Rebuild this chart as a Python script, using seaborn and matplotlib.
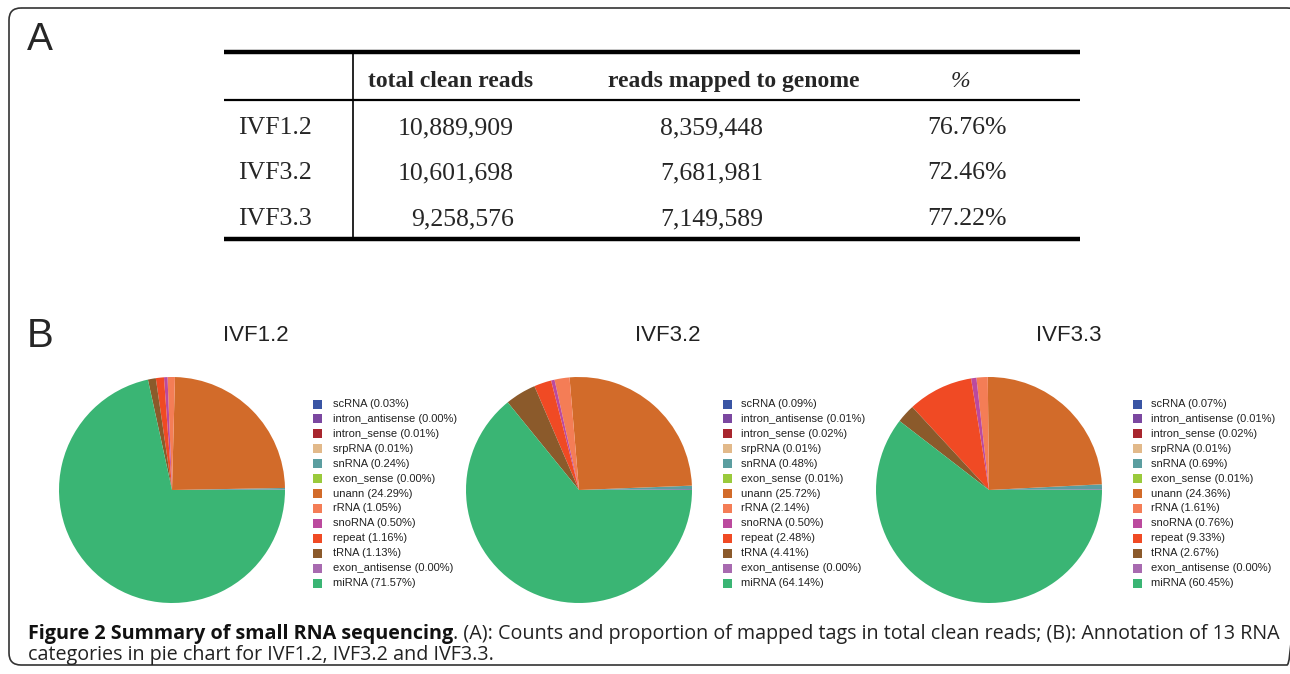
import numpy as np
import pandas as pd
import seaborn as sns
import matplotlib
matplotlib.use("Agg")
from matplotlib import pyplot as plt
from matplotlib.patches import Rectangle, FancyBboxPatch
from matplotlib import font_manager

# ---- data ----
samples = ["IVF1.2", "IVF3.2", "IVF3.3"]
total_clean = ["10,889,909", "10,601,698", "9,258,576"]
mapped = ["8,359,448", "7,681,981", "7,149,589"]
mapped_pct = ["76.76%", "72.46%", "77.22%"]

categories = ["scRNA", "intron_antisense", "intron_sense", "srpRNA", "snRNA",
              "exon_sense", "unann", "rRNA", "snoRNA", "repeat", "tRNA",
              "exon_antisense", "miRNA"]
ivf12 = [0.03, 0.00, 0.01, 0.01, 0.24, 0.00, 24.29, 1.05, 0.50, 1.16, 1.13, 0.00, 71.57]
ivf32 = [0.09, 0.01, 0.02, 0.01, 0.48, 0.01, 25.72, 2.14, 0.50, 2.48, 4.41, 0.00, 64.14]
ivf33 = [0.07, 0.01, 0.02, 0.01, 0.69, 0.01, 24.36, 1.61, 0.76, 9.33, 2.67, 0.00, 60.45]

cat_colors = ["#3A55A4", "#7B47A0", "#A8262E", "#E2B98A", "#5B9EA0", "#9ACA3C",
              "#D26B2A", "#F47D56", "#BB4A9E", "#F04A24", "#8B5A2B", "#A86AB0",
              "#3AB574"]

df = pd.DataFrame({"category": categories, "IVF1.2": ivf12, "IVF3.2": ivf32, "IVF3.3": ivf33})

sns.set_theme(style="white")
pal = sns.color_palette(cat_colors)

installed = {f.name for f in font_manager.fontManager.ttflist}
sans = "Liberation Sans" if "Liberation Sans" in installed else "DejaVu Sans"
serif = "Liberation Serif" if "Liberation Serif" in installed else "DejaVu Serif"
cap_font = "Liberation Sans Narrow" if "Liberation Sans Narrow" in installed else "Open Sans"

W, H = 1290, 674
fig = plt.figure(figsize=(W / 100, H / 100), dpi=100)

# overlay axes in pixel coordinates
ov = fig.add_axes([0, 0, 1, 1])
ov.set_xlim(0, W)
ov.set_ylim(H, 0)
ov.axis("off")

# outer rounded frame
ov.add_patch(FancyBboxPatch((9, 8), 1290, 657, boxstyle="round,pad=0,rounding_size=12",
                            fill=False, ec="#333333", lw=1.2))

# panel letters
ov.text(27, 50, "A", fontsize=28, family=sans, va="baseline")
ov.text(27, 347, "B", fontsize=29, family=sans, va="baseline")

# ---- table (panel A) ----
ov.plot([224, 1080], [52, 52], color="black", lw=3.2, solid_capstyle="butt")
ov.plot([224, 1080], [100, 100], color="black", lw=1.6, solid_capstyle="butt")
ov.plot([224, 1080], [238.5, 238.5], color="black", lw=3.2, solid_capstyle="butt")
ov.plot([353, 353], [53, 238], color="black", lw=1.2)

ov.text(368, 87, "total clean reads", fontsize=17, family=serif, weight="bold", va="baseline")
ov.text(608, 87, "reads mapped to genome", fontsize=17, family=serif, weight="bold", va="baseline")
ov.text(960, 87, "%", fontsize=17, family=serif, style="italic", va="baseline", ha="center")

row_y = [134, 179, 225]
for i, s in enumerate(samples):
    ov.text(238, row_y[i], s, fontsize=18.5, family=serif, va="baseline")
    ov.text(514, row_y[i], total_clean[i], fontsize=18.5, family=serif, va="baseline", ha="right")
    ov.text(660, row_y[i], mapped[i], fontsize=18.5, family=serif, va="baseline")
    ov.text(927, row_y[i], mapped_pct[i], fontsize=18.5, family=serif, va="baseline")

# ---- pies (panel B) ----
centers = [172, 579, 989]
cy, r = 490, 113
title_x = [256, 668, 1069]
leg_x = [313, 723, 1133]
txt_x = [333, 741, 1151]

for k, s in enumerate(samples):
    ax = fig.add_axes([(centers[k] - r) / W, (H - cy - r) / H, 2 * r / W, 2 * r / H])
    ax.pie(df[s], colors=pal, startangle=0, counterclock=True,
           wedgeprops=dict(linewidth=0))
    ax.set_xlim(-1, 1)
    ax.set_ylim(-1, 1)
    ax.axis("off")
    ov.text(title_x[k], 341, s, fontsize=16, family=sans, ha="center", va="baseline", color="#222222")
    for j, c in enumerate(categories):
        yy = 404 + j * 14.92
        ov.add_patch(Rectangle((leg_x[k], yy - 4.5), 9, 9, color=pal[j], lw=0))
        ov.text(txt_x[k], yy, "%s (%.2f%%)" % (c, df[s][j]), fontsize=8, family=sans,
                va="center", color="#222222")

# ---- caption ----
bold_part = "Figure 2 Summary of small RNA sequencing"
rest_part = ". (A): Counts and proportion of mapped tags in total clean reads; (B): Annotation of 13 RNA"
line2 = "categories in pie chart for IVF1.2, IVF3.2 and IVF3.3."

fig.canvas.draw()
rend = fig.canvas.get_renderer()
size = 12
t1 = ov.text(28, 639, bold_part, fontsize=size, family=cap_font, weight="bold", va="baseline", color="#111111")
t2 = ov.text(28, 639, rest_part, fontsize=size, family=cap_font, va="baseline", color="#222222")
w_all = t1.get_window_extent(rend).width + t2.get_window_extent(rend).width
size = size * (1278 - 28) / w_all
t1.set_fontsize(size)
t2.set_fontsize(size)
w1 = t1.get_window_extent(rend).width
t2.set_x(28 + w1)
ov.text(28, 660, line2, fontsize=size, family=cap_font, va="baseline", color="#222222")

fig.savefig("out.png", dpi=100)
